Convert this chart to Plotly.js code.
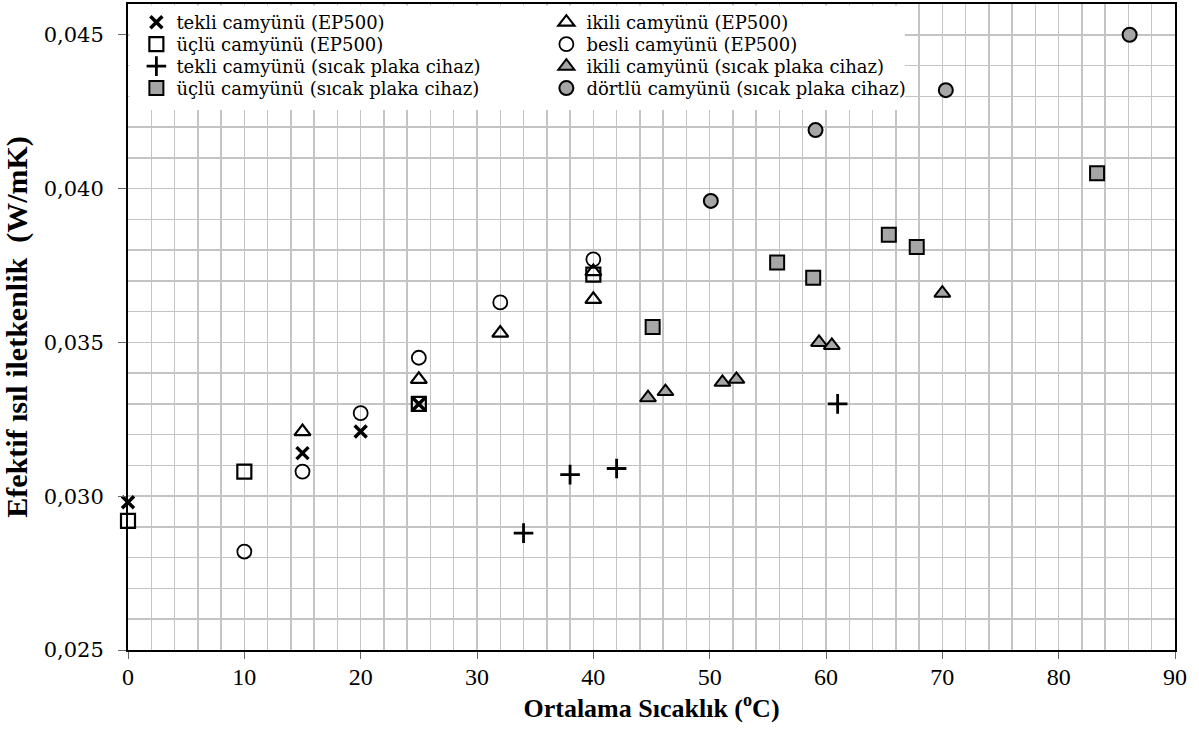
<!DOCTYPE html>
<html>
<head>
<meta charset="utf-8">
<script src="https://cdn.plot.ly/plotly-3.0.1.min.js"></script>
<style>html,body{margin:0;padding:0;background:#fff;}#chart{width:1199px;height:734px;}</style>
</head>
<body>
<div id="chart"></div>
<script>
// tekli camyünü (EP500)
const tekliEP_x = [0, 15, 20, 25];
const tekliEP_y = [0.0298, 0.0314, 0.0321, 0.0330];
// ikili camyünü (EP500)
const ikiliEP_x = [15, 25, 32, 40, 40];
const ikiliEP_y = [0.0321, 0.0338, 0.0353, 0.0364, 0.0373];
// üçlü camyünü (EP500)
const ucluEP_x = [0, 10, 25, 40];
const ucluEP_y = [0.0292, 0.0308, 0.0330, 0.0372];
// besli camyünü (EP500)
const besliEP_x = [10, 15, 20, 25, 32, 40];
const besliEP_y = [0.0282, 0.0308, 0.0327, 0.0345, 0.0363, 0.0377];
// tekli camyünü (sıcak plaka cihaz)
const tekliSP_x = [34, 38, 42, 61];
const tekliSP_y = [0.0288, 0.0307, 0.0309, 0.0330];
// ikili camyünü (sıcak plaka cihaz)
const ikiliSP_x = [44.7, 46.2, 51.1, 52.3, 59.4, 60.5, 70.0];
const ikiliSP_y = [0.0332, 0.0334, 0.0337, 0.0338, 0.0350, 0.0349, 0.0366];
// üçlü camyünü (sıcak plaka cihaz)
const ucluSP_x = [45.1, 55.8, 58.9, 65.4, 67.8, 83.3];
const ucluSP_y = [0.0355, 0.0376, 0.0371, 0.0385, 0.0381, 0.0405];
// dörtlü camyünü (sıcak plaka cihaz)
const dortluSP_x = [50.1, 59.1, 70.3, 86.1];
const dortluSP_y = [0.0396, 0.0419, 0.0432, 0.0450];

const xTicks = [0, 10, 20, 30, 40, 50, 60, 70, 80, 90];
const yTicks = [0.025, 0.030, 0.035, 0.040, 0.045];

const SERIF = 'Liberation Serif';
const WIDE = 'DejaVu Serif';
const GRAY = '#a6a6a6';
const GRID = '#c4c4c4';

function tr(name, x, y, symbol, fill, size, lw, leg) {
  return {
    type: 'scatter', mode: 'markers', name: name, x: x, y: y, legend: leg,
    marker: {symbol: symbol, size: size, color: fill,
             line: {color: '#000', width: lw}},
    cliponaxis: false
  };
}

const data = [
  tr('tekli camyünü (EP500)', tekliEP_x, tekliEP_y, 'x-thin-open', '#000', 12, 3.5, 'legend'),
  tr('ikili camyünü (EP500)', ikiliEP_x, ikiliEP_y, 'triangle-up-open', '#000', 14, 2.2, 'legend'),
  tr('üçlü camyünü (EP500)', ucluEP_x, ucluEP_y, 'square-open', '#000', 14, 2.2, 'legend2'),
  tr('besli camyünü (EP500)', besliEP_x, besliEP_y, 'circle-open', '#000', 14, 1.8, 'legend2'),
  tr('tekli camyünü (sıcak plaka cihaz)', tekliSP_x, tekliSP_y, 'cross-thin-open', '#000', 14, 2.8, 'legend3'),
  tr('ikili camyünü (sıcak plaka cihaz)', ikiliSP_x, ikiliSP_y, 'triangle-up', GRAY, 14, 2, 'legend3'),
  tr('üçlü camyünü (sıcak plaka cihaz)', ucluSP_x, ucluSP_y, 'square', GRAY, 14, 2, 'legend4'),
  tr('dörtlü camyünü (sıcak plaka cihaz)', dortluSP_x, dortluSP_y, 'circle', GRAY, 14, 2, 'legend4')
];

function leg(ytop) {
  return {
    orientation: 'h', x: 0.008, y: ytop, xanchor: 'left', yanchor: 'top',
    bgcolor: 'rgba(0,0,0,0)', borderwidth: 0,
    entrywidth: 365, entrywidthmode: 'pixels',
    itemwidth: 30,
    font: {family: WIDE, size: 18, color: '#000'}
  };
}

const layout = {
  width: 1199, height: 734,
  margin: {l: 128, r: 24, t: 4, b: 84},
  paper_bgcolor: '#fff', plot_bgcolor: '#fff',
  separators: ', ',
  font: {family: SERIF, size: 20, color: '#000'},
  showlegend: true,
  legend: leg(1.0),
  legend2: leg(0.966),
  legend3: leg(0.932),
  legend4: leg(0.898),
  shapes: [{
    type: 'rect', xref: 'paper', yref: 'paper',
    x0: 0.0015, x1: 0.742, y0: 0.836, y1: 0.9975,
    fillcolor: '#fff', line: {width: 0}, layer: 'above'
  }],
  xaxis: {
    range: [0, 90], tickvals: xTicks, ticktext: xTicks.map(String),
    ticks: 'outside', ticklen: 7, tickwidth: 1, tickcolor: '#666',
    ticklabelstandoff: -3,
    showgrid: true, gridcolor: GRID, gridwidth: 1.5,
    minor: {dtick: 2, tick0: 0, showgrid: true, gridcolor: GRID, gridwidth: 1.5, ticks: ''},
    showline: true, linecolor: '#000', linewidth: 2, mirror: true,
    zeroline: false,
    tickfont: {family: SERIF, size: 24},
    title: {text: '<b>Ortalama Sıcaklık (<sup>o</sup>C)</b>', font: {family: SERIF, size: 26}, standoff: 2}
  },
  yaxis: {
    range: [0.025, 0.046], tickvals: yTicks, tickformat: '.3f',
    ticks: 'outside', ticklen: 8, tickwidth: 1, tickcolor: '#666',
    ticklabelstandoff: 10,
    showgrid: true, gridcolor: GRID, gridwidth: 1.5,
    minor: {dtick: 0.001, tick0: 0.025, showgrid: true, gridcolor: GRID, gridwidth: 1.5, ticks: ''},
    showline: true, linecolor: '#000', linewidth: 2, mirror: true,
    zeroline: false,
    tickfont: {family: WIDE, size: 21},
    title: {text: '<b>Efektif ısıl iletkenlik  (W/mK)</b>', font: {family: SERIF, size: 30}, standoff: 8}
  }
};

Plotly.newPlot('chart', data, layout, {displayModeBar: false, staticPlot: true});
</script>
</body>
</html>
